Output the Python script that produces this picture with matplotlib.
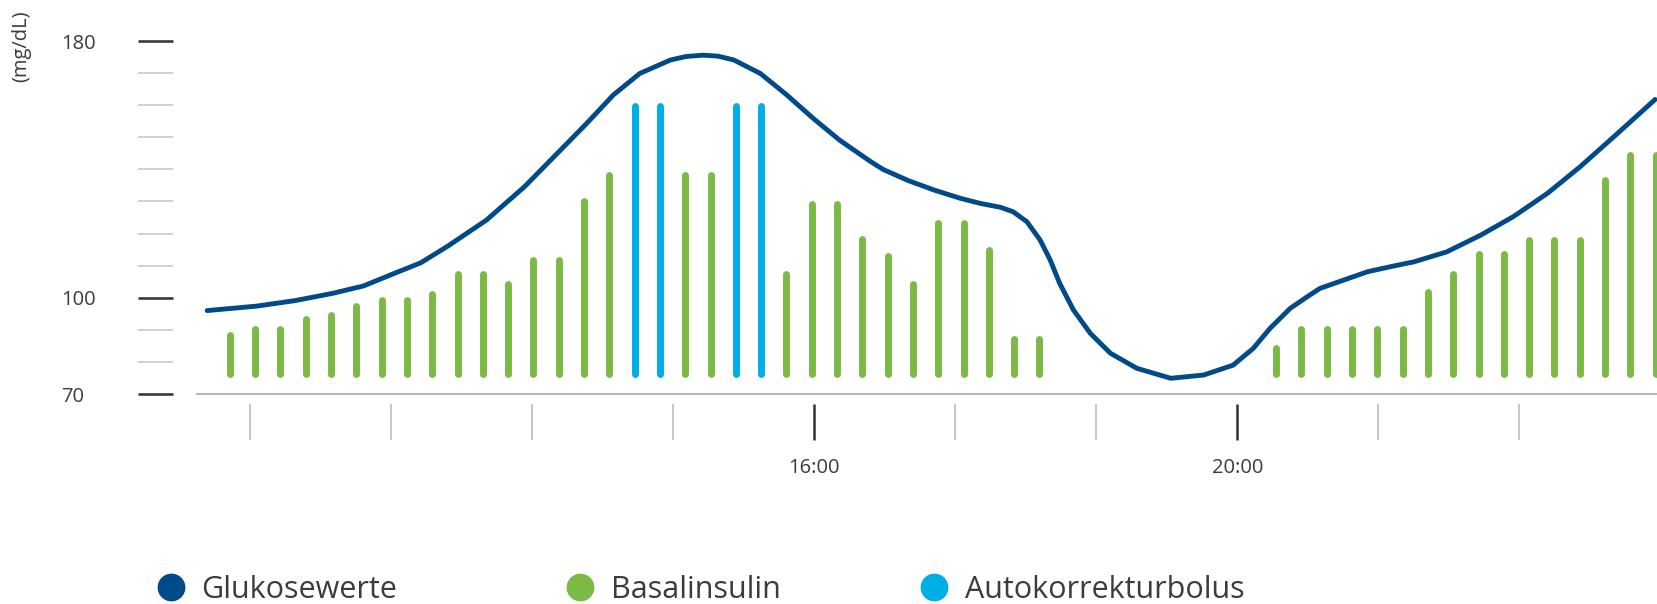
import numpy as np
import matplotlib
matplotlib.use("Agg")
import matplotlib.pyplot as plt
from matplotlib.lines import Line2D

plt.rcParams['font.family'] = ['Open Sans', 'DejaVu Sans']

# Glukosewerte (Stunde, mg/dL)
glucose_h = [10.26, 10.73, 11.09, 11.45, 11.74, 12.03, 12.28, 12.54, 12.90,
             13.26, 13.60, 13.85, 14.10, 14.35, 14.64, 14.79, 14.95, 15.09,
             15.24, 15.49, 15.74, 15.99, 16.24, 16.53, 16.65, 16.89, 17.13,
             17.38, 17.57, 17.76, 17.88, 18.01, 18.135, 18.23, 18.32, 18.45,
             18.61, 18.80, 19.05, 19.37, 19.68, 19.96, 20.15, 20.31, 20.50,
             20.66, 20.78, 21.23, 21.45, 21.67, 21.98, 22.30, 22.61, 22.93,
             23.24, 23.56, 23.95]
glucose_mg = [96.0, 97.4, 99.1, 101.4, 103.7, 107.6, 110.9, 116.2, 124.2,
              134.6, 146.0, 154.4, 163.2, 169.9, 174.1, 175.2, 175.6, 175.3,
              174.1, 169.9, 163.2, 155.9, 149.1, 142.5, 140.0, 136.5, 133.6,
              131.0, 129.4, 128.2, 126.8, 123.7, 118.0, 111.8, 104.5, 96.2,
              88.9, 82.7, 78.0, 74.9, 75.9, 79.0, 84.2, 90.5, 96.7,
              100.3, 102.9, 108.1, 109.7, 111.2, 114.3, 119.5, 125.3, 132.5,
              140.8, 150.2, 161.8]

# Insulinbalken (Oberkante in mg/dL-Skala), zwei Bloecke
bars_a = [88.3, 90.4, 90.4, 93.3, 94.5, 97.3, 99.4, 99.4, 101.1, 107.5, 107.5,
          104.4, 111.9, 111.9, 130.2, 138.3, 159.9, 159.9, 138.3, 138.3, 159.9,
          159.9, 107.5, 129.1, 129.1, 118.4, 112.9, 104.4, 123.3, 123.3, 114.8,
          87.0, 87.0]
bars_b = [84.2, 90.2, 90.2, 90.2, 90.2, 90.2, 101.8, 107.5, 113.5, 113.5,
          117.9, 117.9, 117.9, 136.6, 144.4, 144.4]
bolus_idx = [16, 17, 20, 21]   # Autokorrekturbolus im ersten Block
start_a, start_b = 10.474, 20.367
step = 0.2392
bar_floor = 76.2

major_hours = [16, 20]
major_labels = ["16:00", "20:00"]
minor_hours = [10 + 2/3, 12, 13 + 1/3, 14 + 2/3, 17 + 1/3, 18 + 2/3,
               21 + 1/3, 22 + 2/3]
y_major = [70, 100, 180]
y_minor = [80, 90, 110, 120, 130, 140, 150, 160, 170]

legend_labels = ["Glukosewerte", "Basalinsulin", "Autokorrekturbolus"]

NAVY = "#004a8a"
GREEN = "#7bba44"
CYAN = "#00aee6"
TXT = "#3c3c3c"

t_a = start_a + step * np.arange(len(bars_a))
t_b = start_b + step * np.arange(len(bars_b))
t_all = np.concatenate([t_a, t_b])
v_all = np.array(bars_a + bars_b)
is_bolus = np.zeros(len(v_all), dtype=bool)
is_bolus[bolus_idx] = True

W, H = 1658, 604
fig = plt.figure(figsize=(W / 100, H / 100), dpi=100)
ax = fig.add_axes([138 / W, 1 - 394 / H, 1 - 138 / W, 394 / H])
ax.set_xlim(9.606, 23.977)
ax.set_ylim(70, 192.8)

lc = ax.vlines(t_all[~is_bolus], bar_floor, v_all[~is_bolus], color=GREEN, lw=5)
lc.set_capstyle('round')
lc = ax.vlines(t_all[is_bolus], bar_floor, v_all[is_bolus], color=CYAN, lw=5)
lc.set_capstyle('round')
ax.plot(glucose_h, glucose_mg, color=NAVY, lw=3.5,
        solid_joinstyle='round', solid_capstyle='round', zorder=3)

# Achsen
for s in ['top', 'right', 'left']:
    ax.spines[s].set_visible(False)
ax.spines['bottom'].set_position(('outward', 7.2))
ax.spines['bottom'].set_color('none')
ax.axhline(70, xmin=(197 - 138) / 1520, xmax=1, color='#b8b8b8', lw=1.5,
           clip_on=False, zorder=1)

ax.set_xticks(major_hours, major_labels)
ax.set_xticks(minor_hours, minor=True)
ax.tick_params(axis='x', which='major', direction='out', length=26, width=1.8,
               color='#333333', pad=13, labelsize=14.5, labelcolor=TXT)
ax.tick_params(axis='x', which='minor', direction='out', length=26, width=1.1,
               color='#b5b5b5')

ax.set_yticks(y_major, [str(v) for v in y_major])
ax.set_yticks(y_minor, minor=True)
ax.tick_params(axis='y', which='major', direction='in', length=25.2, width=1.9,
               color='#3a3a3a', pad=55.4, labelsize=14.5, labelcolor=TXT)
ax.tick_params(axis='y', which='minor', direction='in', length=25.2, width=1.2,
               color='#c8c8c8')
for lab in ax.get_yticklabels():
    lab.set_horizontalalignment('left')

fig.text(21 / W, 1 - 46.5 / H, "(mg/dL)", rotation=90, ha='center',
         va='center', fontsize=14.5, color=TXT)

# Legende: drei Eintraege, einzeln platziert
for lbl, col, cx in zip(legend_labels, (NAVY, GREEN, CYAN), (170.7, 580, 934)):
    h = Line2D([], [], ls='none', marker='o', ms=19, color=col)
    fig.legend([h], [lbl], loc='center left',
               bbox_to_anchor=((cx - 15.3) / W, 1 - 590 / H),
               frameon=False, fontsize=22, handlelength=1.0, handletextpad=0.5,
               borderpad=0, borderaxespad=0, labelcolor=TXT)

fig.savefig("out.png", dpi=100)
